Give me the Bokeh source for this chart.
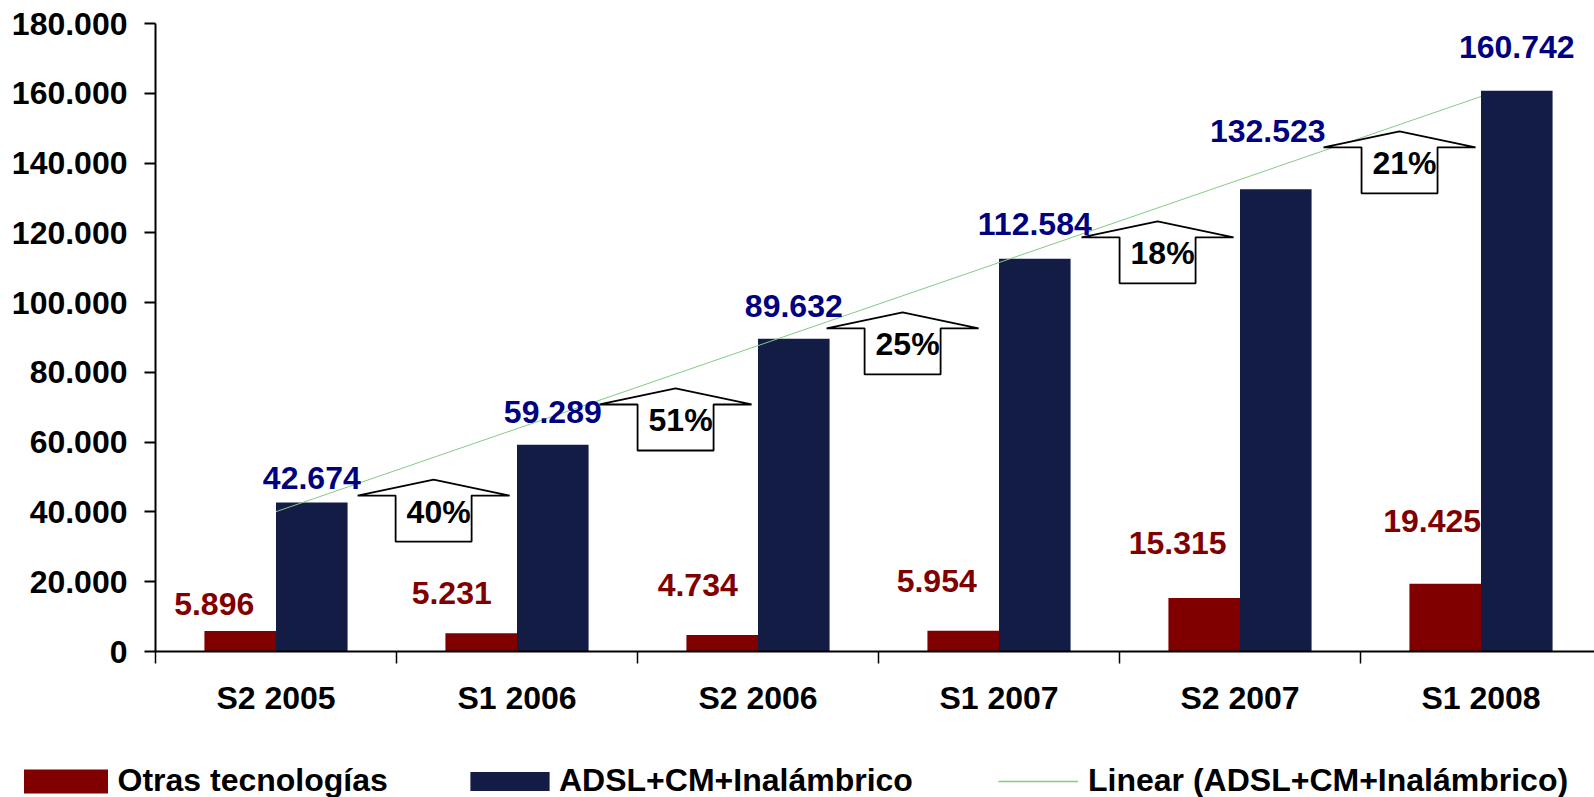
import numpy as np
from bokeh.plotting import figure
from bokeh.layouts import column
from bokeh.models import ColumnDataSource, Range1d, FixedTicker, Legend, LegendItem
from bokeh.core.properties import value
from bokeh.embed import file_html
from bokeh.resources import INLINE

# ---------------- data ----------------
categories = ["S2 2005", "S1 2006", "S2 2006", "S1 2007", "S2 2007", "S1 2008"]
otras = [5896, 5231, 4734, 5954, 15315, 19425]
adsl = [42674, 59289, 89632, 112584, 132523, 160742]
growth_labels = ["40%", "51%", "25%", "18%", "21%"]
y_ticks = [0, 20000, 40000, 60000, 80000, 100000, 120000, 140000, 160000, 180000]
y_tick_labels = ["0", "20.000", "40.000", "60.000", "80.000", "100.000",
                 "120.000", "140.000", "160.000", "180.000"]
series_names = ["Otras tecnologías", "ADSL+CM+Inalámbrico", "Linear (ADSL+CM+Inalámbrico)"]

# ---------------- layout / style ----------------
W = 1594
H1, H2 = 737, 60
LEFT, TOP, BOTTOM = 155, 23, 86
CAT_PX = 241.0
FRAME_W = W - LEFT
FRAME_H = H1 - TOP - BOTTOM
X_START = -0.5
X_END = X_START + FRAME_W / CAT_PX
Y_MAX = 180000
PX_X = CAT_PX                 # px per category unit
PX_Y = FRAME_H / Y_MAX        # px per value unit
BAR_W = 0.297
FS = "32px"

FONT = value("Liberation Sans")
RED = "#800000"
NAVY = "#121c45"
NAVY_TXT = "#000080"
TREND = "#86c986"

# label nudges in screen pixels
otras_dx = [-26, -29.5, -24.5, -26.5, -26.5, -13]
otras_dy = [-27, -40, -49.5, -50, -55, -62.7]
adsl_dx = [0, 0, 0, 0, -8, 0]
adsl_dy = [-25, -33, -33, -35, -58, -44]
# growth arrows: centre (category units) and shoulder level (value units)
arrow_cx = [0.654, 1.658, 2.600, 3.658, 4.662]
arrow_shoulder = [44700, 70800, 92600, 118700, 144500]
ARROW_PTS = [(-76, 0), (0, 16), (76, 0), (38, 0), (38, -46), (-38, -46), (-38, 0)]


def fmt(v):
    return f"{v:,}".replace(",", ".")


idx = np.arange(len(categories))

p = figure(width=W, height=H1, x_range=Range1d(X_START, X_END), y_range=Range1d(0, Y_MAX),
           output_backend="svg", toolbar_location=None,
           min_border_left=LEFT, min_border_right=0, min_border_top=TOP,
           min_border_bottom=BOTTOM)
p.frame_align = False
p.outline_line_color = None
p.xgrid.visible = False
p.ygrid.visible = False
p.background_fill_color = "white"
p.border_fill_color = "white"

src_o = ColumnDataSource(dict(x=idx - BAR_W / 2, top=otras, label=[fmt(v) for v in otras],
                              dx=otras_dx, dy=otras_dy))
src_a = ColumnDataSource(dict(x=idx + BAR_W / 2, top=adsl, label=[fmt(v) for v in adsl],
                              dx=adsl_dx, dy=adsl_dy))

p.vbar(x="x", top="top", width=BAR_W, bottom=0, source=src_o,
       fill_color=RED, line_color=None)
p.vbar(x="x", top="top", width=BAR_W, bottom=0, source=src_a,
       fill_color=NAVY, line_color=None)

# linear trendline of the ADSL series
coef = np.polyfit(idx, adsl, 1)
tx = np.array([idx[0], idx[-1]], dtype=float)
p.line(tx, np.polyval(coef, tx), line_color=TREND, line_width=1)

# growth arrows
xs, ys = [], []
for cx, sy in zip(arrow_cx, arrow_shoulder):
    xs.append([cx + dx / PX_X for dx, _ in ARROW_PTS])
    ys.append([sy + dy / PX_Y for _, dy in ARROW_PTS])
p.patches(xs, ys, fill_color="white", line_color="black", line_width=1.8)
p.text(x=arrow_cx, y=arrow_shoulder, text=growth_labels, x_offset=5, y_offset=16,
       text_align="center", text_baseline="middle", text_font=FONT,
       text_font_style="bold", text_font_size=FS, text_color="black")

# value labels
p.text(x="x", y="top", text="label", x_offset="dx", y_offset="dy", source=src_o,
       text_align="center", text_baseline="middle", text_font=FONT,
       text_font_style="bold", text_font_size=FS, text_color=RED)
p.text(x="x", y="top", text="label", x_offset="dx", y_offset="dy", source=src_a,
       text_align="center", text_baseline="middle", text_font=FONT,
       text_font_style="bold", text_font_size=FS, text_color=NAVY_TXT)

# axes
xa = p.xaxis[0]
xa.ticker = FixedTicker(ticks=list(range(len(categories))),
                        minor_ticks=[i - 0.5 for i in range(len(categories) + 1)])
xa.major_label_overrides = {i: c for i, c in enumerate(categories)}
xa.major_tick_out = 0
xa.major_tick_in = 0
xa.minor_tick_out = 12
xa.minor_tick_in = 0
xa.minor_tick_line_color = "black"
xa.minor_tick_line_width = 1.5
xa.axis_line_width = 2
xa.axis_line_color = "black"
xa.major_label_standoff = 16
xa.major_label_text_font = "Liberation Sans"
xa.major_label_text_font_style = "bold"
xa.major_label_text_font_size = FS
xa.major_label_text_color = "black"

ya = p.yaxis[0]
ya.ticker = FixedTicker(ticks=y_ticks)
ya.major_label_overrides = {t: l for t, l in zip(y_ticks, y_tick_labels)}
ya.major_tick_out = 11
ya.major_tick_in = 0
ya.minor_tick_out = 0
ya.minor_tick_in = 0
ya.major_tick_line_width = 2
ya.major_tick_line_color = "black"
ya.axis_line_width = 2
ya.axis_line_color = "black"
ya.major_label_standoff = 17
ya.major_label_text_font = "Liberation Sans"
ya.major_label_text_font_style = "bold"
ya.major_label_text_font_size = FS
ya.major_label_text_color = "black"

# ---------------- legend strip ----------------
q = figure(width=W, height=H2, x_range=Range1d(0, 1), y_range=Range1d(0, 1),
           output_backend="svg", toolbar_location=None,
           x_axis_location=None, y_axis_location=None,
           min_border_left=0, min_border_right=0, min_border_top=0, min_border_bottom=0)
q.frame_align = False
q.xgrid.visible = False
q.ygrid.visible = False
q.outline_line_color = None
q.background_fill_color = "white"
q.border_fill_color = "white"

# legend swatch renderers (drawn outside the visible range)
d_o = q.vbar(x=[5], top=[1], width=0.1, fill_color=RED, line_color=None)
d_a = q.vbar(x=[5], top=[1], width=0.1, fill_color=NAVY, line_color=None)
d_t = q.line(x=[5, 6], y=[0.5, 0.5], line_color=TREND, line_width=1.5)

LEG_Y = -2
leg_specs = [
    (series_names[0], d_o, 12.5, 105, 30, 0),
    (series_names[1], d_a, 460, 99, 24, 0),
    (series_names[2], d_t, 998, 80, 26, 10),
]
for name, rend, lx, gw, gh, st in leg_specs:
    leg = Legend(items=[LegendItem(label=name, renderers=[rend])],
                 location=(lx, LEG_Y), orientation="horizontal",
                 glyph_width=gw, glyph_height=gh, label_standoff=st,
                 padding=0, margin=0, spacing=0, label_height=26,
                 border_line_alpha=0, background_fill_alpha=0,
                 label_text_font="Liberation Sans", label_text_font_style="bold",
                 label_text_font_size=FS, label_text_color="black")
    q.add_layout(leg)

layout = column(p, q, spacing=0)
open("out.html", "w").write(file_html(layout, INLINE))
